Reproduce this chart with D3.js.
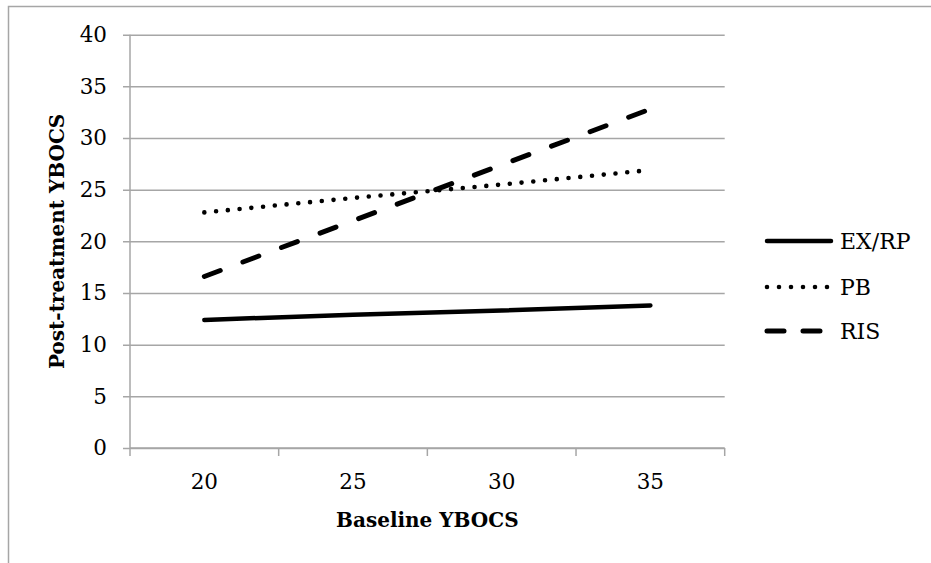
<!DOCTYPE html>
<html>
<head>
<meta charset="utf-8">
<script src="https://cdn.jsdelivr.net/npm/d3@7"></script>
<style>
  body { margin: 0; background: #fff; }
  svg { display: block; }
  text { font-family: "DejaVu Serif", serif; fill: #000; }
</style>
</head>
<body>
<svg id="chart" width="931" height="563"></svg>
<script>
// chart values
var categories = ["20", "25", "30", "35"];
var exrpValues = [12.4, 12.9, 13.3, 13.8];
var pbValues   = [22.8, 24.2, 25.5, 26.9];
var risValues  = [16.6, 22.0, 27.4, 32.8];
var yTicks     = [0, 5, 10, 15, 20, 25, 30, 35, 40];
var seriesNames = ["EX/RP", "PB", "RIS"];

var svg = d3.select("#chart");

var plot = {left: 130, right: 724.7, top: 34.7, bottom: 448};

var xBand = d3.scaleBand()
	.domain(categories)
	.range([plot.left, plot.right]);

var x = d3.scalePoint()
	.domain(categories)
	.range([plot.left, plot.right])
	.padding(0.5);

var y = d3.scaleLinear()
	.domain([0, 40])
	.range([plot.bottom, plot.top]);

// outer frame (clipped by the window on the right and bottom)
svg.append("rect")
	.attr("x", 8.5).attr("y", 6.5)
	.attr("width", 1000).attr("height", 1000)
	.attr("fill", "none")
	.attr("stroke", "#a6a6a6")
	.attr("stroke-width", 1.5);

// gridlines + y axis
var yAxis = d3.axisLeft(y)
	.tickValues(yTicks)
	.tickSize(-(plot.right - plot.left))
	.tickPadding(23)
	.tickFormat(d3.format("d"));

var gy = svg.append("g")
	.attr("transform", "translate(" + plot.left + ",0)")
	.call(yAxis);

gy.select(".domain").remove();
gy.selectAll(".tick line")
	.attr("x1", -7)
	.attr("stroke", "#a6a6a6")
	.attr("stroke-width", 1.5);
gy.selectAll(".tick text")
	.attr("font-size", 21.5)
	.attr("font-family", "DejaVu Serif")
	.attr("fill", "#000");

// left vertical axis line
svg.append("line")
	.attr("x1", plot.left).attr("x2", plot.left)
	.attr("y1", plot.top).attr("y2", plot.bottom)
	.attr("stroke", "#a6a6a6")
	.attr("stroke-width", 1.5);

// x axis with ticks between categories
var gx = svg.append("g")
	.attr("transform", "translate(0," + plot.bottom + ")");

gx.append("line")
	.attr("x1", plot.left).attr("x2", plot.right)
	.attr("stroke", "#a6a6a6")
	.attr("stroke-width", 1.5);

var bounds = categories.map(function(c) { return xBand(c); }).concat([plot.right]);

gx.selectAll("line.tick")
	.data(bounds)
	.enter().append("line")
	.attr("class", "tick")
	.attr("x1", function(d) { return d; })
	.attr("x2", function(d) { return d; })
	.attr("y1", 0).attr("y2", 8)
	.attr("stroke", "#a6a6a6")
	.attr("stroke-width", 1.5);

gx.selectAll("text")
	.data(categories)
	.enter().append("text")
	.attr("x", function(d) { return x(d); })
	.attr("y", 41)
	.attr("text-anchor", "middle")
	.attr("font-size", 21.5)
	.text(function(d) { return d; });

// axis titles
svg.append("text")
	.attr("x", (plot.left + plot.right) / 2)
	.attr("y", 527)
	.attr("text-anchor", "middle")
	.attr("font-size", 20)
	.attr("font-weight", "bold")
	.text("Baseline YBOCS");

svg.append("text")
	.attr("transform", "translate(64," + ((plot.top + plot.bottom) / 2) + ") rotate(-90)")
	.attr("text-anchor", "middle")
	.attr("font-size", 20)
	.attr("font-weight", "bold")
	.text("Post-treatment YBOCS");

// series
var styles = [
	{width: 4.5, dash: null},
	{width: 4.6, dash: "0 11.8"},
	{width: 5,   dash: "17 24.2"}
];

var series = [exrpValues, pbValues, risValues].map(function(vals, i) {
	return {name: seriesNames[i], values: vals, style: styles[i]};
});

var line = d3.line()
	.x(function(d, i) { return x(categories[i]); })
	.y(function(d) { return y(d); });

svg.selectAll("path.series")
	.data(series)
	.enter().append("path")
	.attr("class", "series")
	.attr("d", function(d) { return line(d.values); })
	.attr("fill", "none")
	.attr("stroke", "#000")
	.attr("stroke-width", function(d) { return d.style.width; })
	.attr("stroke-linecap", "round")
	.attr("stroke-dasharray", function(d) { return d.style.dash; });

// legend
var legendY = [241, 287, 331];
var legendDash = [null, "0 12", "17 19"];

var legend = svg.selectAll("g.legend")
	.data(series)
	.enter().append("g")
	.attr("class", "legend")
	.attr("transform", function(d, i) { return "translate(0," + legendY[i] + ")"; });

legend.append("line")
	.attr("x1", 767)
	.attr("x2", 831)
	.attr("stroke", "#000")
	.attr("stroke-width", function(d) { return d.style.width; })
	.attr("stroke-linecap", "round")
	.attr("stroke-dasharray", function(d, i) { return legendDash[i]; });

legend.append("text")
	.attr("x", 840)
	.attr("y", 7.5)
	.attr("font-size", 22)
	.text(function(d) { return d.name; });
</script>
</body>
</html>
